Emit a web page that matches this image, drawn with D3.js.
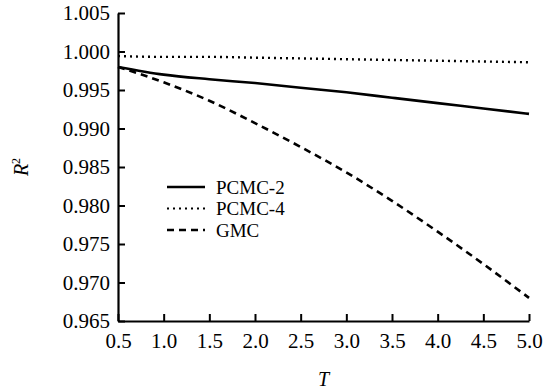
<!DOCTYPE html>
<html>
<head>
<meta charset="utf-8">
<script src="https://cdn.jsdelivr.net/npm/d3@7"></script>
<style>
  body { margin: 0; background: #fff; }
</style>
</head>
<body>
<div id="chart"></div>
<script>
// data
const tValues = [0.5, 1.0, 1.5, 2.0, 2.5, 3.0, 3.5, 4.0, 4.5, 5.0];
const pcmc2 = [0.9980, 0.9970, 0.9964, 0.9959, 0.9953, 0.9947, 0.9940, 0.9933, 0.9926, 0.9919];
const pcmc4 = [0.9994, 0.9993, 0.9993, 0.9992, 0.9991, 0.9990, 0.9989, 0.9988, 0.9987, 0.9986];
const gmc   = [0.9980, 0.9960, 0.9936, 0.9907, 0.9876, 0.9843, 0.9806, 0.9766, 0.9724, 0.9680];
const seriesNames = ["PCMC-2", "PCMC-4", "GMC"];
const xTicks = [0.5, 1.0, 1.5, 2.0, 2.5, 3.0, 3.5, 4.0, 4.5, 5.0];
const yTicks = [0.965, 0.970, 0.975, 0.980, 0.985, 0.990, 0.995, 1.000, 1.005];

const width = 554, height = 390;
const margin = { left: 118, right: 25, top: 13, bottom: 69 };
const serif = "Liberation Serif";

const svg = d3.select("#chart").append("svg")
  .attr("width", width)
  .attr("height", height);

const x = d3.scaleLinear().domain([0.5, 5.0]).range([margin.left, width - margin.right]);
const y = d3.scaleLinear().domain([0.965, 1.005]).range([height - margin.bottom, margin.top]);

// axes - ticks point inward
const xAxis = d3.axisBottom(x).tickValues(xTicks).tickFormat(d3.format(".1f"))
  .tickSizeInner(-7).tickSizeOuter(0).tickPadding(12);
const yAxis = d3.axisLeft(y).tickValues(yTicks).tickFormat(d3.format(".3f"))
  .tickSizeInner(-7).tickSizeOuter(0).tickPadding(8);

const gx = svg.append("g")
  .attr("transform", "translate(0," + y(0.965) + ")")
  .call(xAxis);
const gy = svg.append("g")
  .attr("transform", "translate(" + x(0.5) + ",0)")
  .call(yAxis);

[gx, gy].forEach(g => {
  g.select(".domain").attr("stroke", "#000").attr("stroke-width", 2.2);
  g.selectAll(".tick line").attr("stroke", "#000").attr("stroke-width", 2);
  g.selectAll(".tick text")
    .attr("fill", "#000")
    .attr("font-family", serif)
    .attr("font-size", 21);
});
gx.selectAll(".tick text").attr("dy", "0.71em");

// axis titles
svg.append("text")
  .attr("x", x(2.75))
  .attr("y", 386)
  .attr("text-anchor", "middle")
  .attr("font-family", serif)
  .attr("font-size", 20)
  .attr("font-style", "italic")
  .text("T");

const yTitle = svg.append("text")
  .attr("transform", "translate(28," + y(0.985) + ") rotate(-90)")
  .attr("text-anchor", "middle")
  .attr("font-family", serif)
  .attr("font-size", 20);
yTitle.append("tspan").attr("font-style", "italic").text("R");
yTitle.append("tspan").attr("dy", -8).attr("font-size", 12).text("2");

// lines
const line = d3.line()
  .x((d, i) => x(tValues[i]))
  .y(d => y(d))
  .curve(d3.curveMonotoneX);

const styles = [
  { data: pcmc2, dash: null, w: 2.6 },
  { data: pcmc4, dash: "2,4", w: 2.4 },
  { data: gmc, dash: "7,5", w: 2.6 }
];

styles.forEach(s => {
  svg.append("path")
    .datum(s.data)
    .attr("d", line)
    .attr("fill", "none")
    .attr("stroke", "#000")
    .attr("stroke-width", s.w)
    .attr("stroke-dasharray", s.dash);
});

// legend
const legend = svg.append("g").attr("transform", "translate(167,187)");
seriesNames.forEach((name, i) => {
  const row = legend.append("g").attr("transform", "translate(0," + (i * 21.5) + ")");
  row.append("line")
    .attr("x1", 0).attr("x2", 38)
    .attr("y1", 0).attr("y2", 0)
    .attr("stroke", "#000")
    .attr("stroke-width", i === 1 ? 2 : 2.6)
    .attr("stroke-dasharray", styles[i].dash);
  row.append("text")
    .attr("x", 49)
    .attr("y", 0)
    .attr("dy", "0.35em")
    .attr("font-family", serif)
    .attr("font-size", 19)
    .text(name);
});
</script>
</body>
</html>
